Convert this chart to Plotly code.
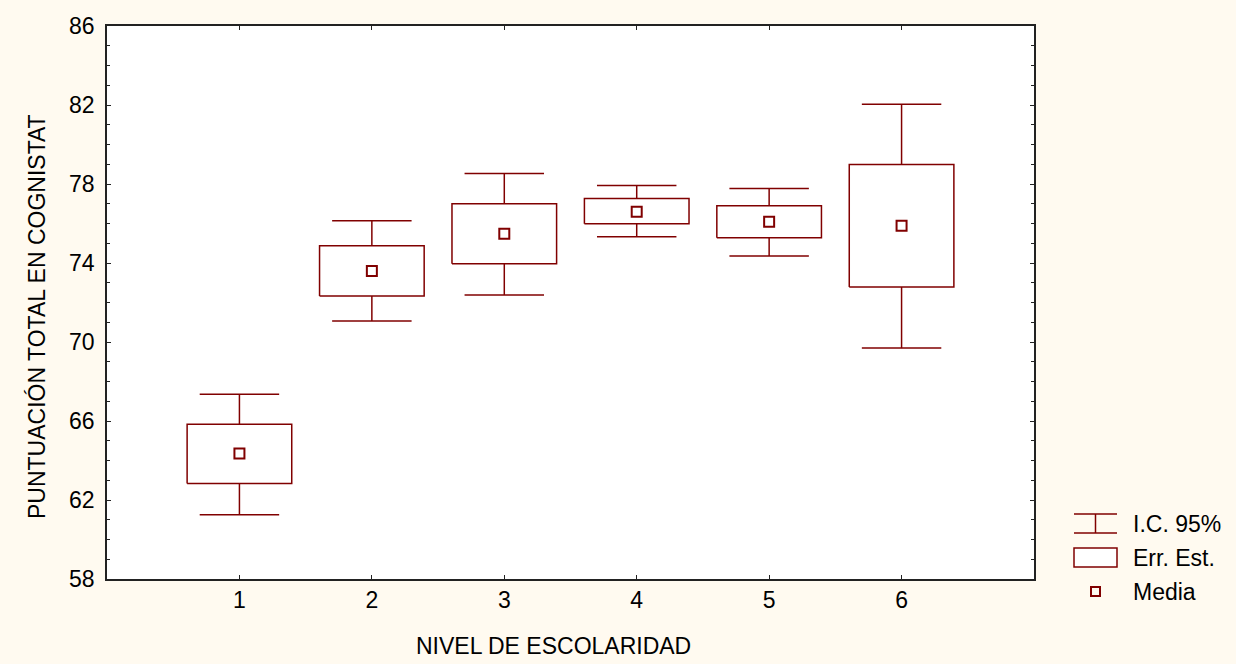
import plotly.graph_objects as go

# ---- data ----
niveles = [1, 2, 3, 4, 5, 6]
media = [64.35, 73.60, 75.48, 76.60, 76.09, 75.89]
ee_sup = [65.83, 74.87, 77.00, 77.26, 76.90, 78.99]
ee_inf = [62.83, 72.33, 73.96, 75.99, 75.28, 72.79]
ic_sup = [67.35, 76.14, 78.53, 77.92, 77.77, 82.04]
ic_inf = [61.25, 71.06, 72.38, 75.33, 74.36, 69.69]
y_ticks = [58, 62, 66, 70, 74, 78, 82, 86]

RED = "#800000"
BG = "#FFFAF0"
FONT = "Liberation Sans, Arial, sans-serif"
FS = 23

W, H = 1236, 664
L, R, T, B = 107, 202, 26, 85
PW, PH = W - L - R, H - T - B

BOX_HW = 0.395   # half width of the standard-error box (x units)
CAP_HW = 0.30    # half width of the CI whisker caps


def px(xp):
    return (xp - L) / PW


def py(yp):
    return (H - B - yp) / PH


# build whisker (CI) paths
wx, wy = [], []
for c, lo, hi, bl, bh in zip(niveles, ic_inf, ic_sup, ee_inf, ee_sup):
    # upper whisker + cap
    wx += [c, c, None, c - CAP_HW, c + CAP_HW, None]
    wy += [bh, hi, None, hi, hi, None]
    # lower whisker + cap
    wx += [c, c, None, c - CAP_HW, c + CAP_HW, None]
    wy += [bl, lo, None, lo, lo, None]

# build box (SE) paths
bx, by = [], []
for c, bl, bh in zip(niveles, ee_inf, ee_sup):
    bx += [c - BOX_HW, c + BOX_HW, c + BOX_HW, c - BOX_HW, c - BOX_HW, None]
    by += [bl, bl, bh, bh, bl, None]

fig = go.Figure()

fig.add_trace(go.Scatter(
    x=wx, y=wy, mode="lines",
    line=dict(color=RED, width=1.5),
    showlegend=False, hoverinfo="skip",
))

fig.add_trace(go.Scatter(
    x=bx, y=by, mode="lines",
    fill="toself", fillcolor="white",
    line=dict(color=RED, width=1.5),
    showlegend=False, hoverinfo="skip",
))

fig.add_trace(go.Scatter(
    x=niveles,
    y=media,
    mode="markers",
    marker=dict(symbol="square-open", size=10, color=RED, line=dict(width=2, color=RED)),
    showlegend=False,
))

shapes = []
annotations = []

# manual legend
lc = dict(color=RED, width=1.5)
shapes.append(dict(type="line", xref="paper", yref="paper", x0=px(1074), x1=px(1117), y0=py(514), y1=py(514), line=lc))
shapes.append(dict(type="line", xref="paper", yref="paper", x0=px(1074), x1=px(1117), y0=py(533), y1=py(533), line=lc))
shapes.append(dict(type="line", xref="paper", yref="paper", x0=px(1095.5), x1=px(1095.5), y0=py(514), y1=py(533), line=lc))
shapes.append(dict(type="rect", xref="paper", yref="paper", x0=px(1074), x1=px(1117), y0=py(548), y1=py(567), line=lc, fillcolor="white"))
shapes.append(dict(type="rect", xref="paper", yref="paper", x0=px(1091), x1=px(1100), y0=py(587), y1=py(596), line=dict(color=RED, width=2)))

for txt, yy in [("I.C. 95%", 524), ("Err. Est.", 558), ("Media", 592)]:
    annotations.append(dict(text=txt, xref="paper", yref="paper", x=px(1131), y=py(yy),
                            xanchor="left", yanchor="middle", showarrow=False,
                            font=dict(family=FONT, size=FS, color="black")))

# axis titles
annotations.append(dict(text="NIVEL DE ESCOLARIDAD", xref="paper", yref="paper", x=px(553), y=py(646),
                        xanchor="center", yanchor="middle", showarrow=False,
                        font=dict(family=FONT, size=FS, color="black")))
annotations.append(dict(text="PUNTUACIÓN TOTAL EN COGNISTAT", xref="paper", yref="paper", x=px(37), y=py(317),
                        xanchor="center", yanchor="middle", showarrow=False, textangle=-90,
                        font=dict(family=FONT, size=FS, color="black")))

axis_common = dict(
    showline=True, linecolor="#222222", linewidth=1.5, mirror="ticks",
    ticks="inside", ticklen=4, tickcolor="#222222", tickwidth=1,
    showgrid=False, zeroline=False,
    tickfont=dict(family=FONT, size=FS, color="black"),
)

fig.update_layout(
    width=W, height=H,
    margin=dict(l=L, r=R, t=T, b=B),
    paper_bgcolor=BG,
    plot_bgcolor="white",
    font=dict(family=FONT, size=FS, color="black"),
    shapes=shapes,
    annotations=annotations,
    xaxis=dict(range=[0, 7], tickvals=niveles, ticktext=[str(n) for n in niveles], **axis_common),
    yaxis=dict(range=[58, 86], tickvals=y_ticks, ticktext=[str(v) for v in y_ticks],
               minor=dict(ticks="inside", dtick=1, ticklen=3, tickcolor="#222222"),
               ticklabelstandoff=6,
               **axis_common),
    showlegend=False,
)

fig.write_html(
    "out.html",
    config={"displayModeBar": False},
    post_script="document.body.style.margin='0';document.body.style.overflow='hidden';",
)
